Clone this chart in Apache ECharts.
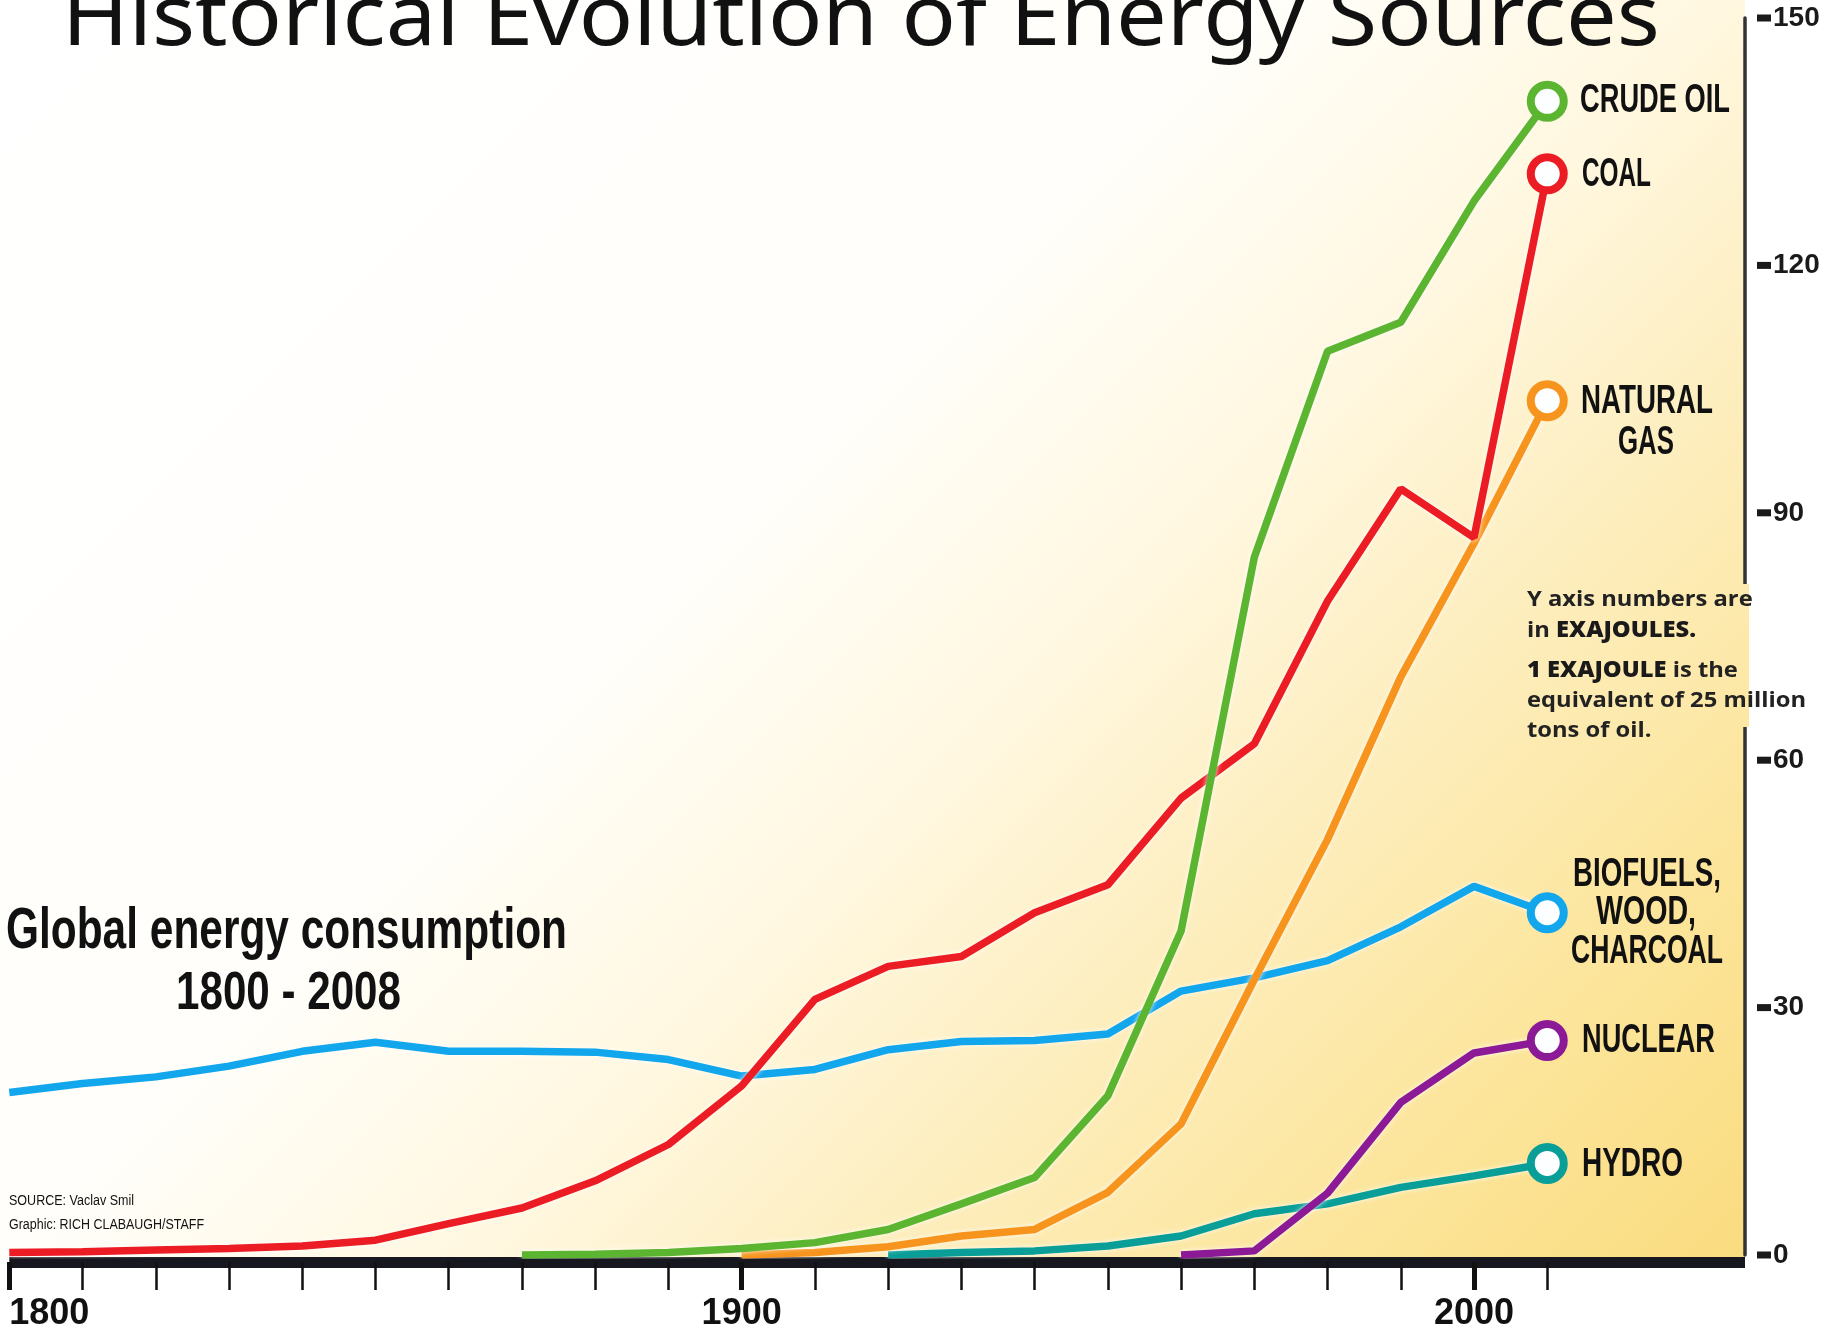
<!DOCTYPE html>
<html>
<head>
<meta charset="utf-8">
<script src="https://cdn.jsdelivr.net/npm/echarts@6/dist/echarts.min.js"></script>
<style>
html,body{margin:0;padding:0;background:#fff;}
#chart{width:1823px;height:1332px;}
</style>
</head>
<body>
<div id="chart"></div>
<script>
// ---- data (exajoules), one value per decade ----
const years = [1800,1810,1820,1830,1840,1850,1860,1870,1880,1890,1900,1910,1920,1930,1940,1950,1960,1970,1980,1990,2000,2010];
const biofuels = [19.7,20.8,21.6,22.9,24.7,25.8,24.7,24.7,24.6,23.7,21.7,22.5,24.9,25.9,26.0,26.8,32.0,33.6,35.7,39.8,44.7,41.5];
const coal = [0.3,0.4,0.6,0.8,1.1,1.8,3.8,5.7,9.0,13.4,20.5,31.0,35.0,36.2,41.5,44.9,55.4,62.0,79.3,92.9,87.0,131.1];
const crudeOil = [null,null,null,null,null,null,null,0.0,0.1,0.3,0.8,1.5,3.1,6.2,9.4,19.3,39.3,84.6,109.6,113.1,127.8,139.9];
const naturalGas = [null,null,null,null,null,null,null,null,null,null,0.0,0.3,1.0,2.3,3.1,7.6,15.9,33.4,50.4,70.1,86.3,103.6];
const hydro = [null,null,null,null,null,null,null,null,null,null,null,null,0.0,0.3,0.5,1.1,2.3,5.0,6.2,8.2,9.6,11.1];
const nuclear = [null,null,null,null,null,null,null,null,null,null,null,null,null,null,null,null,0.0,0.5,7.5,18.5,24.5,26.0];

const xLabelYears = [1800,1900,2000];
const yTicks = [0,30,60,90,120,150];

const seriesNames = ['BIOFUELS, WOOD, CHARCOAL','HYDRO','NUCLEAR','NATURAL GAS','COAL','CRUDE OIL'];
const seriesValues = [biofuels, hydro, nuclear, naturalGas, coal, crudeOil];
const seriesColors = ['#12a6ec','#0a9e98','#8c1a96','#f7941e','#ec1c24','#5cb531'];

// ---- helpers ----
const NARROW = "'Liberation Sans Narrow', 'Liberation Sans', Arial, sans-serif";
const mctx = document.createElement('canvas').getContext('2d');
function measure(text, font){ mctx.font = font; return mctx.measureText(text).width; }
function fitText(text, font, left, cy, width, extra){
  const s = width / measure(text, font);
  return Object.assign({
    type:'text', x:left, y:cy, scaleX:s, z:100, silent:true,
    style:{text:text, font:font, fill:'#111', align:'left', verticalAlign:'middle', textAlign:'left', textVerticalAlign:'middle'}
  }, extra||{});
}

const grad = () => new echarts.graphic.LinearGradient(0,0,1498,1498,[
  {offset:0, color:'#ffffff'},
  {offset:0.42, color:'#fffefa'},
  {offset:0.58, color:'#fff7df'},
  {offset:0.72, color:'#fdedbb'},
  {offset:0.86, color:'#fce59b'},
  {offset:1, color:'#fadc80'}
], true);

const series = seriesValues.map((vals, si) => {
  const data = [];
  vals.forEach((v, i) => {
    if (v === null) return;
    const last = i === vals.length - 1;
    data.push({value:[years[i], v], symbol: last ? 'circle' : 'none', symbolSize: last ? 33 : 0});
  });
  return {
    name: seriesNames[si], type:'line', data:data, z: 2 + si,
    symbol:'circle', showSymbol:true, silent:true,
    lineStyle:{color:seriesColors[si], width:7.5, shadowColor:'rgba(255,255,255,0.9)', shadowBlur:5},
    itemStyle:{color:'#fdfeff', borderColor:seriesColors[si], borderWidth:8},
    emphasis:{disabled:true}
  };
});

// ---- labels as fitted text ----
const LBL = "bold 40px " + NARROW;
const graphics = [
  {type:'rect', z:-10, silent:true, shape:{x:0, y:0, width:1745, height:1258}, style:{fill:grad()}},
  {type:'rect', z:50, silent:true, shape:{x:1739, y:584, width:10, height:143}, style:{fill:grad()}},
  fitText('Historical Evolution of Energy Sources', "400 84px 'Noto Sans', 'Open Sans', sans-serif", 62, 21, 1598),
  fitText('CRUDE OIL', LBL, 1580, 101, 150),
  fitText('COAL', LBL, 1582, 175, 69),
  fitText('NATURAL', LBL, 1581, 402, 132),
  fitText('GAS', LBL, 1618, 443, 56),
  fitText('BIOFUELS,', LBL, 1573, 875, 148),
  fitText('WOOD,', LBL, 1596, 913, 100),
  fitText('CHARCOAL', LBL, 1571, 952, 152),
  fitText('NUCLEAR', LBL, 1582, 1041, 133),
  fitText('HYDRO', LBL, 1582, 1165, 101),
  fitText('Global energy consumption', "bold 57px " + NARROW, 6, 932, 561),
  fitText('1800 - 2008', "bold 54px " + NARROW, 176, 994, 225),
  fitText('SOURCE: Vaclav Smil', "14px " + NARROW, 9, 1201, 125, {}),
  fitText('Graphic: RICH CLABAUGH/STAFF', "14px " + NARROW, 9, 1225, 195, {})
];
// note box
const NOTE_FONT = "700 22px 'Open Sans', 'Noto Sans', sans-serif";
const noteScale = 279 / measure('equivalent of 25 million', NOTE_FONT);
const noteRich = {b:{font:"800 22px 'Open Sans', 'Noto Sans', sans-serif", fill:'#1a1a1a'}};
[['Y axis numbers are', 600],['in {b|EXAJOULES.}', 630.5],['{b|1 EXAJOULE} is the', 671],['equivalent of 25 million', 700.5],['tons of oil.', 730.5]].forEach(([t, y]) => {
  graphics.push({type:'text', x:1527, y:y, scaleX:noteScale, z:100, silent:true,
    style:{text:t, font:NOTE_FONT, fill:'#222', align:'left', verticalAlign:'middle', rich:noteRich}});
});

const chart = echarts.init(document.getElementById('chart'), null, {renderer:'canvas'});
chart.setOption({
  animation:false,
  backgroundColor:'#ffffff',
  grid:{left:9.3, right:78, top:18, bottom:76, containLabel:false},
  xAxis:[
    {type:'value', min:1800, max:2037, position:'bottom', offset:7,
     axisLine:{show:true, onZero:false, lineStyle:{color:'#17171f', width:11, cap:'butt'}},
     axisTick:{show:true, customValues:years, length:28, lineStyle:{color:'#111', width:2.5}},
     axisLabel:{show:true, customValues:xLabelYears, margin:34, fontSize:36, fontWeight:'bold', fontFamily:NARROW, color:'#111', alignMinLabel:'left',
       formatter:(v) => String(v)},
     splitLine:{show:false}},
    {type:'value', min:1800, max:2037, position:'bottom', offset:7,
     axisLine:{show:false, onZero:false},
     axisTick:{show:true, customValues:xLabelYears, length:28, lineStyle:{color:'#111', width:5}},
     axisLabel:{show:false}, splitLine:{show:false}}
  ],
  yAxis:{type:'value', min:0, max:150, interval:30, position:'right',
    axisLine:{show:true, onZero:false, lineStyle:{color:'#333', width:3.5}},
    axisTick:{show:false}, splitLine:{show:false},
    axisLabel:{margin:12, customValues:yTicks,
      formatter:(v) => '{d| }{n|' + v + '}',
      rich:{
        d:{width:14, height:7, backgroundColor:'#1a1a1a', verticalAlign:'middle'},
        n:{fontSize:28, fontWeight:'bold', fontFamily:NARROW, color:'#1a1a1a', padding:[0,0,0,2]}
      }}},
  graphic:{elements:graphics},
  series:series
});
</script>
</body>
</html>
